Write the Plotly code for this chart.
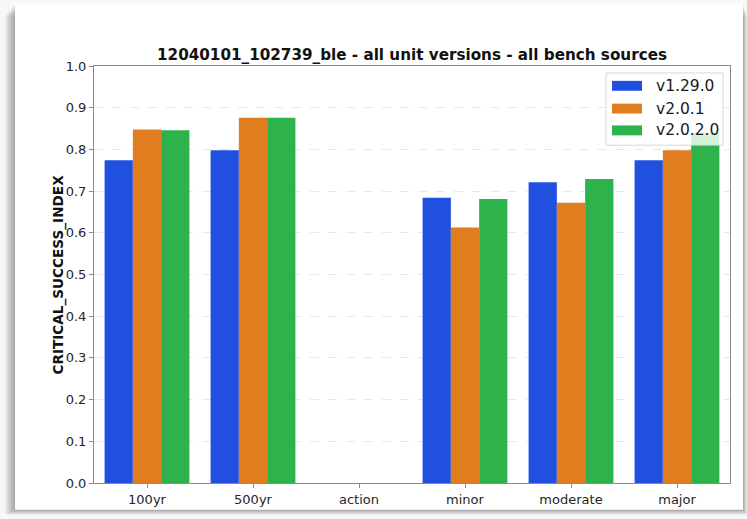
import plotly.graph_objects as go

# Categories and per-version critical success index values
categories = ["100yr", "500yr", "action", "minor", "moderate", "major"]
versions = ["v1.29.0", "v2.0.1", "v2.0.2.0"]
csi_v1_29_0 = [0.774, 0.798, None, 0.684, 0.721, 0.774]
csi_v2_0_1 = [0.848, 0.876, None, 0.613, 0.672, 0.798]
csi_v2_0_2_0 = [0.846, 0.876, None, 0.681, 0.729, 0.840]
y_ticks = [0.0, 0.1, 0.2, 0.3, 0.4, 0.5, 0.6, 0.7, 0.8, 0.9, 1.0]

series = [csi_v1_29_0, csi_v2_0_1, csi_v2_0_2_0]
colors = ["#2150e0", "#e07d1f", "#2eb24b"]

W, H = 747, 519
L, R, T, B = 94, 17, 66, 32
PW, PH = W - L - R, H - T - B


def px_x(px):
    return (px - L) / PW


def px_y(py):
    return 1 - (py - T) / PH


fig = go.Figure()
for name, vals, col in zip(versions, series, colors):
    fig.add_trace(go.Bar(
        x=categories, y=vals, name=name,
        marker=dict(color=col, line=dict(width=0)),
        showlegend=False,
    ))

shapes = []
# soft drop shadow to the left / bottom of the card
for k in range(1, 11):
    shapes.append(dict(type="rect", xref="paper", yref="paper", layer="below",
                       x0=px_x(15 - k), x1=px_x(743 + k * 0.4),
                       y0=px_y(3 + k * 1.2), y1=px_y(514 + k * 0.5),
                       fillcolor="rgba(0,0,0,0.035)", line=dict(width=0)))
# white card
shapes.append(dict(type="rect", xref="paper", yref="paper", layer="below",
                   x0=px_x(15), x1=px_x(743), y0=px_y(3), y1=px_y(514),
                   fillcolor="white", line=dict(width=0)))

# legend box
lx0, lx1, ly0, ly1 = 606, 723, 73, 146
shapes.append(dict(type="rect", xref="paper", yref="paper", layer="above",
                   x0=px_x(lx0), x1=px_x(lx1), y0=px_y(ly0), y1=px_y(ly1),
                   fillcolor="rgba(255,255,255,0.8)",
                   line=dict(color="rgba(204,204,204,0.8)", width=1)))
annotations = []
row_y = [86, 109, 131]
for name, col, ry in zip(versions, colors, row_y):
    shapes.append(dict(type="rect", xref="paper", yref="paper", layer="above",
                       x0=px_x(612), x1=px_x(642), y0=px_y(ry - 5), y1=px_y(ry + 5),
                       fillcolor=col, line=dict(width=0)))
    annotations.append(dict(x=px_x(654), y=px_y(ry), xref="paper", yref="paper",
                            text=name, showarrow=False, xanchor="left", yanchor="middle",
                            font=dict(family="DejaVu Sans", size=15.5, color="#1a1a1a")))

# y-axis title
annotations.append(dict(x=px_x(58), y=0.5, xref="paper", yref="paper",
                        text="<b>CRITICAL_SUCCESS_INDEX</b>", textangle=-90,
                        showarrow=False, xanchor="center", yanchor="middle",
                        font=dict(family="DejaVu Sans", size=13.6, color="#111111")))

fig.update_layout(
    width=W, height=H,
    margin=dict(l=L, r=R, t=T, b=B, pad=0),
    paper_bgcolor="#f7f7f7",
    plot_bgcolor="white",
    barmode="group",
    bargap=0.2, bargroupgap=0,
    shapes=shapes,
    annotations=annotations,
    title=dict(text="<b>12040101_102739_ble - all unit versions - all bench sources</b>",
               x=(L + PW / 2) / W, xanchor="center", y=1 - 55 / H, yanchor="middle",
               font=dict(family="DejaVu Sans", size=15.2, color="#111111")),
    font=dict(family="DejaVu Sans", size=13, color="#262626"),
)
fig.update_yaxes(
    range=[0, 1], tickvals=y_ticks, ticktext=[f"{v:.1f}" for v in y_ticks],
    showgrid=True, gridcolor="#e8e8e8", griddash="dash", gridwidth=1,
    showline=True, linecolor="#8a8a8a", linewidth=1, mirror=True,
    ticks="outside", ticklen=4, tickcolor="#8a8a8a",
    zeroline=False,
)
fig.update_xaxes(
    showline=True, linecolor="#8a8a8a", linewidth=1, mirror=True,
    ticks="outside", ticklen=4, tickcolor="#8a8a8a",
    showgrid=False,
)

fig.write_html("out.html")
